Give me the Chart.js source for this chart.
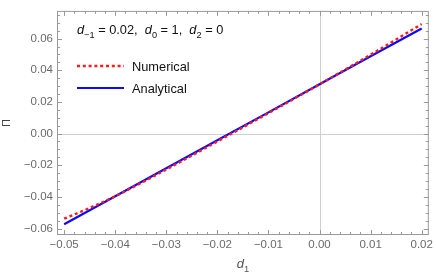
<!DOCTYPE html>
<html>
<head>
<meta charset="utf-8">
<script src="https://cdn.jsdelivr.net/npm/chart.js@4"></script>
<style>
  html, body { margin: 0; padding: 0; background: #fff; }
</style>
</head>
<body>
<canvas id="chart" width="436" height="280"></canvas>
<script>
// values
const d1 = [-0.05, -0.045, -0.04, -0.03, -0.02, -0.01, 0, 0.01, 0.02];
const numerical = [-0.0538, -0.0470, -0.0396, -0.0227, -0.0050, 0.0129, 0.0311, 0.0498, 0.0692];
const analytical = [-0.0573, -0.0485, -0.0396, -0.0219, -0.0042, 0.0134, 0.0311, 0.0488, 0.0664];
const seriesNames = ['Numerical', 'Analytical'];

const xTicks = [-0.05, -0.04, -0.03, -0.02, -0.01, 0, 0.01, 0.02];
const yTicks = [-0.06, -0.04, -0.02, 0, 0.02, 0.04, 0.06];

// "d-1 = 0.02, d0 = 1, d2 = 0" in pieces (i = italic, sub = subscript)
const paramText = [
  { t: 'd', i: true }, { t: '\u22121', sub: true }, { t: ' = 0.02,  ' },
  { t: 'd', i: true }, { t: '0', sub: true }, { t: ' = 1,  ' },
  { t: 'd', i: true }, { t: '2', sub: true }, { t: ' = 0' },
];
const xTitle = [{ t: 'd', i: true }, { t: '1', sub: true }];
const yTitle = '\u03A0';

const FONT = '"Liberation Sans", Arial, sans-serif';
const FRAME = '#9a9a9a';
const LABEL = '#6a6a6a';

const fmt = (v) => (v < 0 ? '\u2212' : '') + Math.abs(v).toFixed(2);

function drawRich(ctx, x, y, parts, size, color) {
  ctx.fillStyle = color;
  ctx.textBaseline = 'alphabetic';
  ctx.textAlign = 'left';
  parts.forEach((p) => {
    const s = p.sub ? size * 0.72 : size;
    ctx.font = (p.i ? 'italic ' : '') + s + 'px ' + FONT;
    ctx.fillText(p.t, x, y + (p.sub ? size * 0.28 : 0));
    x += ctx.measureText(p.t).width;
  });
}

function richWidth(ctx, parts, size) {
  return parts.reduce((w, p) => {
    ctx.font = (p.i ? 'italic ' : '') + (p.sub ? size * 0.72 : size) + 'px ' + FONT;
    return w + ctx.measureText(p.t).width;
  }, 0);
}

function drawTicks(ctx, scale, majors, step, horizontal, a) {
  const n0 = Math.ceil(scale.min / step - 1e-9);
  for (let i = n0; i * step <= scale.max + 1e-12; i++) {
    const v = i * step;
    const major = majors.some((t) => Math.abs(t - v) < step / 10);
    const len = major ? 5 : 3;
    const p = Math.round(scale.getPixelForValue(v)) + 0.5;
    ctx.beginPath();
    if (horizontal) {
      ctx.moveTo(p, a.bottom); ctx.lineTo(p, a.bottom - len);
      ctx.moveTo(p, a.top); ctx.lineTo(p, a.top + len);
    } else {
      ctx.moveTo(a.left, p); ctx.lineTo(a.left + len, p);
      ctx.moveTo(a.right, p); ctx.lineTo(a.right - len, p);
    }
    ctx.stroke();
  }
}

const framePlugin = {
  id: 'frame',
  beforeDatasetsDraw(chart) {
    const { ctx, chartArea: a, scales: { x, y } } = chart;
    ctx.save();
    ctx.strokeStyle = '#cfcfcf';
    ctx.lineWidth = 1;
    const px = Math.round(x.getPixelForValue(0)) + 0.5;
    const py = Math.round(y.getPixelForValue(0)) + 0.5;
    ctx.beginPath();
    ctx.moveTo(px, a.top); ctx.lineTo(px, a.bottom);
    ctx.moveTo(a.left, py); ctx.lineTo(a.right, py);
    ctx.stroke();
    ctx.restore();
  },
  afterDatasetsDraw(chart) {
    const { ctx, chartArea: a, scales: { x, y } } = chart;
    ctx.save();
    ctx.strokeStyle = FRAME;
    ctx.lineWidth = 1;
    ctx.strokeRect(a.left + 0.5, a.top + 0.5, a.right - a.left - 1, a.bottom - a.top - 1);
    drawTicks(ctx, x, xTicks, 0.002, true, a);
    drawTicks(ctx, y, yTicks, 0.005, false, a);

    // x axis title
    const w = richWidth(ctx, xTitle, 13);
    drawRich(ctx, (a.left + a.right) / 2 - w / 2, 268, xTitle, 13, '#555');

    // parameters
    drawRich(ctx, 77, 34, paramText, 12.8, '#111');

    // legend
    chart.data.datasets.forEach((ds, i) => {
      const ly = 66 + i * 22;
      ctx.strokeStyle = ds.borderColor;
      ctx.lineWidth = ds.borderWidth;
      ctx.setLineDash(ds.borderDash || []);
      ctx.beginPath();
      ctx.moveTo(77, ly); ctx.lineTo(124, ly);
      ctx.stroke();
      ctx.setLineDash([]);
      ctx.fillStyle = '#111';
      ctx.font = '12.8px ' + FONT;
      ctx.textBaseline = 'middle';
      ctx.fillText(ds.label, 132, ly + 1);
    });
    ctx.restore();
  }
};

new Chart(document.getElementById('chart'), {
  type: 'scatter',
  data: {
    datasets: [
      {
        label: seriesNames[0],
        data: d1.map((x, i) => ({ x, y: numerical[i] })),
        showLine: true,
        borderColor: '#ff1a1a',
        borderWidth: 2.4,
        borderDash: [3, 2.8],
        cubicInterpolationMode: 'monotone',
        pointRadius: 0,
        order: 0,
      },
      {
        label: seriesNames[1],
        data: d1.map((x, i) => ({ x, y: analytical[i] })),
        showLine: true,
        borderColor: '#0a0aff',
        borderWidth: 2.2,
        pointRadius: 0,
        order: 1,
      },
    ],
  },
  options: {
    responsive: false,
    animation: false,
    devicePixelRatio: 1,
    layout: { padding: { top: 4, right: 7, left: 0, bottom: 0 } },
    plugins: { legend: { display: false }, tooltip: { enabled: false } },
    scales: {
      x: {
        type: 'linear',
        min: -0.0514,
        max: 0.0214,
        grid: { display: false, drawTicks: false },
        border: { display: false },
        afterBuildTicks: (s) => { s.ticks = xTicks.map((value) => ({ value })); },
        afterFit: (s) => { s.height = 45; },
        ticks: {
          padding: 3,
          color: LABEL,
          font: { family: FONT, size: 11.5 },
          maxRotation: 0,
          callback: fmt,
        },
      },
      y: {
        type: 'linear',
        min: -0.0641,
        max: 0.0775,
        grid: { display: false, drawTicks: false },
        border: { display: false },
        afterBuildTicks: (s) => { s.ticks = yTicks.map((value) => ({ value })); },
        afterFit: (s) => { s.width = 57; },
        title: {
          display: true,
          text: yTitle,
          color: '#444',
          padding: 0,
          font: { family: FONT, size: 11 },
        },
        ticks: {
          padding: 4,
          color: LABEL,
          font: { family: FONT, size: 11.5 },
          callback: fmt,
        },
      },
    },
  },
  plugins: [framePlugin],
});
</script>
</body>
</html>
